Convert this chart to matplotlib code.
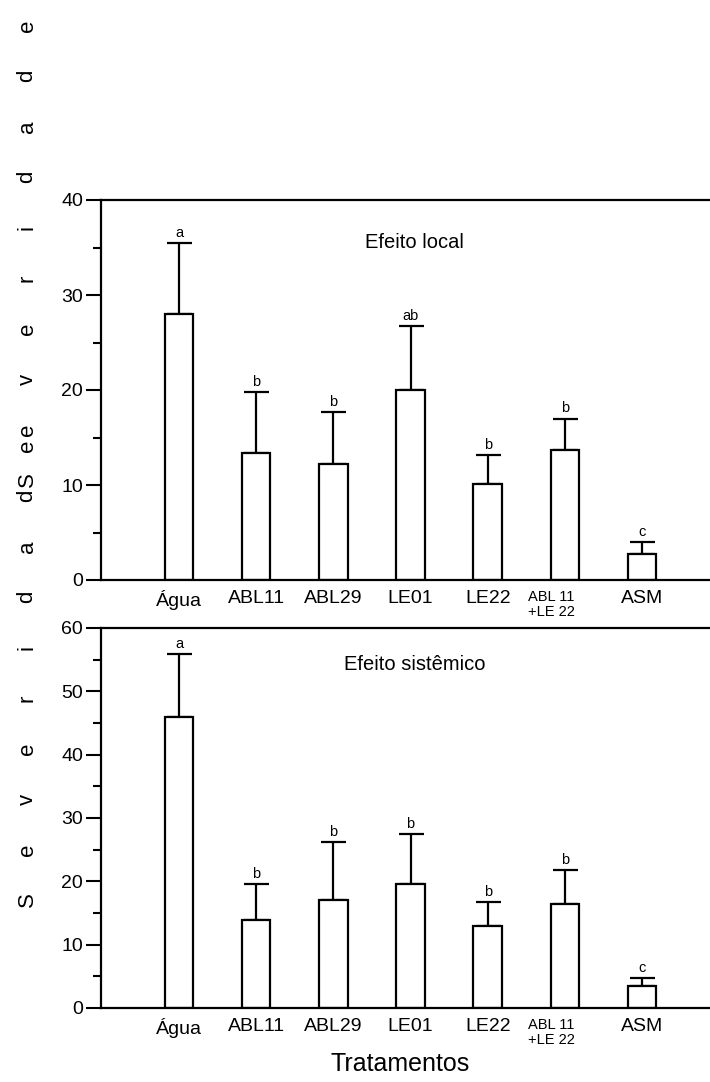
import numpy as np
import matplotlib
matplotlib.use("Agg")
import matplotlib.pyplot as plt
from matplotlib.ticker import MultipleLocator

# Tratamentos e médias de severidade (%) com desvio
tratamentos = ["Água", "ABL11", "ABL29", "LE01", "LE22", "ABL 11\n+LE 22", "ASM"]

local_media = [28.0, 13.4, 12.2, 20.0, 10.1, 13.65, 2.7]
local_desvio = [7.5, 6.35, 5.45, 6.7, 3.1, 3.35, 1.3]
local_letras = ["a", "b", "b", "ab", "b", "b", "c"]

sist_media = [46.0, 13.9, 17.05, 19.6, 12.9, 16.4, 3.4]
sist_desvio = [9.9, 5.7, 9.1, 7.9, 3.8, 5.4, 1.3]
sist_letras = ["a", "b", "b", "b", "b", "b", "c"]

rotulo_y = "Severidade"

plt.rcParams["font.family"] = ["Liberation Sans", "DejaVu Sans"]

W, H = 710, 1082
fig = plt.figure(figsize=(W / 100, H / 100), dpi=100)


def painel(rect, media, desvio, letras, ymax, titulo, tit_y):
    ax = fig.add_axes(rect)
    x = np.arange(len(media))
    ax.bar(x, media, width=0.37, color="white", edgecolor="black", linewidth=1.6, zorder=2)
    ax.errorbar(x, media, yerr=[np.zeros(len(media)), desvio], fmt="none",
                ecolor="black", elinewidth=1.6, capsize=9, capthick=1.6, zorder=1)
    for xi, m, d, l in zip(x, media, desvio, letras):
        ax.text(xi, m + d + ymax * 0.008, l, ha="center", va="bottom", fontsize=10.5)

    ax.set_xlim(-1.01, 6.88)
    ax.set_ylim(0, ymax)
    ax.set_xticks(x)
    # o rótulo de duas linhas vai à parte, menor e um pouco à esquerda
    ax.set_xticklabels(["" if "\n" in t else t for t in tratamentos], fontsize=14)
    for xi, t in zip(x, tratamentos):
        if "\n" in t:
            ax.annotate(t, xy=(xi, 0), xycoords=("data", "axes fraction"),
                        xytext=(-10, -7), textcoords="offset points",
                        ha="center", va="top", fontsize=10.5, linespacing=1.1)
    ax.tick_params(axis="x", length=0, pad=7)
    ax.yaxis.set_major_locator(MultipleLocator(10))
    ax.yaxis.set_minor_locator(MultipleLocator(5))
    ax.tick_params(axis="y", which="major", direction="out", length=11, width=1.5,
                   labelsize=14, pad=2)
    ax.tick_params(axis="y", which="minor", direction="out", length=6, width=1.5)
    for s in ["left", "bottom", "top"]:
        ax.spines[s].set_linewidth(1.6)
    ax.spines["right"].set_visible(False)
    ax.text(0.515, tit_y, titulo, transform=ax.transAxes, ha="center", va="center",
            fontsize=14.5)
    return ax


painel([101 / W, 1 - 580 / H, 1 - 101 / W, 380 / H],
       local_media, local_desvio, local_letras, 40, "Efeito local", 0.887)
painel([101 / W, 1 - 1008 / H, 1 - 101 / W, 380 / H],
       sist_media, sist_desvio, sist_letras, 60, "Efeito sistêmico", 0.903)

# rótulo do eixo y, letra por letra (duas vezes, uma por painel)
passo = 50.5
for base in (480, 900):
    for i, c in enumerate(rotulo_y):
        yc = base - i * passo
        fig.text(27 / W, 1 - yc / H, c, rotation=90, ha="center", va="center",
                 fontsize=16)

fig.text(400 / W, 1 - 1064 / H, "Tratamentos", ha="center", va="center", fontsize=18)

fig.savefig("out.png", dpi=100)
